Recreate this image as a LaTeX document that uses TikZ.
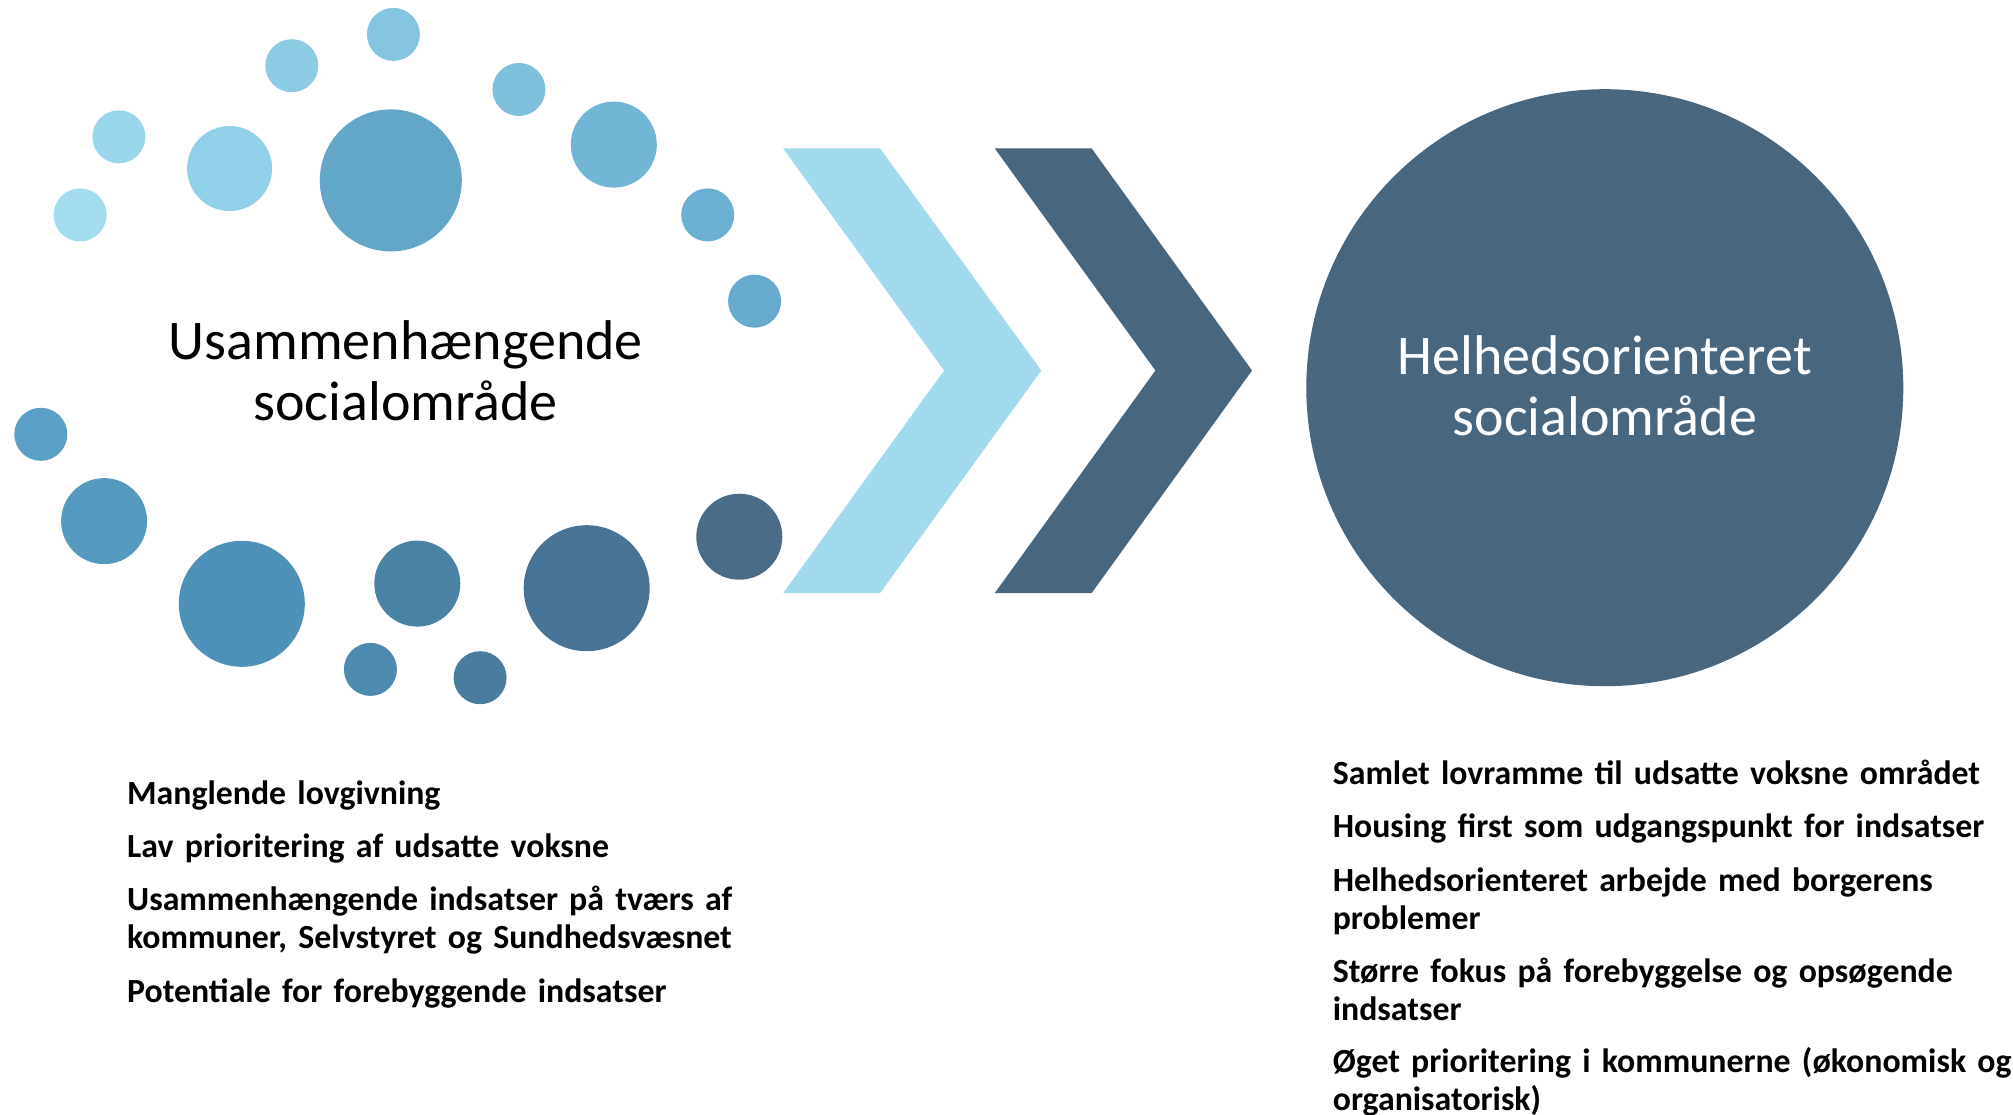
\documentclass[tikz,border=0pt]{standalone}
\usepackage{fontspec}
\setmainfont{Carlito}
\definecolor{c1}{HTML}{A3DCEE}
\definecolor{c2}{HTML}{9AD6EB}
\definecolor{c3}{HTML}{8CCBE4}
\definecolor{c4}{HTML}{86C5E0}
\definecolor{c5}{HTML}{90D0E8}
\definecolor{c6}{HTML}{62A6C8}
\definecolor{c7}{HTML}{7EBFDC}
\definecolor{c8}{HTML}{72B6D6}
\definecolor{c9}{HTML}{6BB0D2}
\definecolor{c10}{HTML}{66ABCE}
\definecolor{c11}{HTML}{5A9FC6}
\definecolor{c12}{HTML}{5599BF}
\definecolor{c13}{HTML}{4E91B8}
\definecolor{c14}{HTML}{4A82A3}
\definecolor{c15}{HTML}{4C8AB0}
\definecolor{c16}{HTML}{497C9E}
\definecolor{c17}{HTML}{487394}
\definecolor{c18}{HTML}{4A6C89}
\definecolor{chevlight}{HTML}{A0DAEC}
\definecolor{slate}{HTML}{48677F}
\begin{document}
\begin{tikzpicture}[x=1pt,y=-1pt,
  bubble/.style={circle,inner sep=0pt,draw=none,minimum size=#1},
  title/.style={text width=700pt,align=center,inner sep=0pt,anchor=base,
    font=\fontsize{56}{61.5}\selectfont},
  listitem/.style={anchor=base west,text width=760pt,align=left,inner sep=0pt,
    font=\bfseries\fontsize{33.8}{38.5}\selectfont}]
\useasboundingbox (0,0) rectangle (2013,1115);
\fill[white] (0,0) rectangle (2013,1115);
% bubbles
\node[bubble=53pt,fill=c1]  (b1)  at (80.1,214.9) {};
\node[bubble=53pt,fill=c2]  (b2)  at (118.9,136.8) {};
\node[bubble=53pt,fill=c3]  (b3)  at (291.8,65.7) {};
\node[bubble=53pt,fill=c4]  (b4)  at (393.4,34.4) {};
\node[bubble=85pt,fill=c5]  (b5)  at (229.6,168.5) {};
\node[bubble=142pt,fill=c6] (b6)  at (390.8,180.4) {};
\node[bubble=53pt,fill=c7]  (b7)  at (518.9,89.5) {};
\node[bubble=86pt,fill=c8]  (b8)  at (613.8,144.6) {};
\node[bubble=53pt,fill=c9]  (b9)  at (707.7,214.9) {};
\node[bubble=53pt,fill=c10] (b10) at (754.6,301.2) {};
\node[bubble=53pt,fill=c11] (b11) at (40.8,434.3) {};
\node[bubble=86pt,fill=c12] (b12) at (104.1,521.1) {};
\node[bubble=126pt,fill=c13] (b13) at (241.8,603.8) {};
\node[bubble=86pt,fill=c14] (b14) at (417.3,583.6) {};
\node[bubble=53pt,fill=c15] (b15) at (370.4,669.4) {};
\node[bubble=53pt,fill=c16] (b16) at (480.1,677.7) {};
\node[bubble=126pt,fill=c17] (b17) at (586.7,588.2) {};
\node[bubble=86pt,fill=c18] (b18) at (739.3,536.7) {};
% title left
\node[title] (start) at (405.7,359) {Usammenhængende\\socialområde};
% chevrons
\fill[chevlight] (783.2,148.5) -- (880.1,148.5) -- (1041.3,370.5) -- (880.1,593.0)
  -- (783.2,593.0) -- (944.1,370.5) -- cycle;
\fill[slate] (994.8,148.5) -- (1091.7,148.5) -- (1252.0,370.5) -- (1091.7,593.0)
  -- (994.8,593.0) -- (1155.4,370.5) -- cycle;
% goal circle
\node[circle,fill=slate,inner sep=0pt,minimum size=597pt] (goal) at (1604.8,387.7) {};
\node[title,text=white] (goaltext) at (1604.8,374) {Helhedsorienteret\\socialområde};
% left list
\node[listitem] (l1) at (127,804) {Manglende lovgivning};
\node[listitem] (l2) at (127,857) {Lav prioritering af udsatte voksne};
\node[listitem] (l3) at (127,910) {Usammenhængende indsatser på tværs af\\kommuner, Selvstyret og Sundhedsvæsnet};
\node[listitem] (l4) at (127,1002) {Potentiale for forebyggende indsatser};
% right list
\node[listitem] (r1) at (1332.6,784) {Samlet lovramme til udsatte voksne området};
\node[listitem] (r2) at (1332.6,837) {Housing first som udgangspunkt for indsatser};
\node[listitem] (r3) at (1332.6,891) {Helhedsorienteret arbejde med borgerens\\problemer};
\node[listitem] (r4) at (1332.6,982) {Større fokus på forebyggelse og opsøgende\\indsatser};
\node[listitem] (r5) at (1332.6,1072) {Øget prioritering i kommunerne (økonomisk og\\organisatorisk)};
\end{tikzpicture}
\end{document}
